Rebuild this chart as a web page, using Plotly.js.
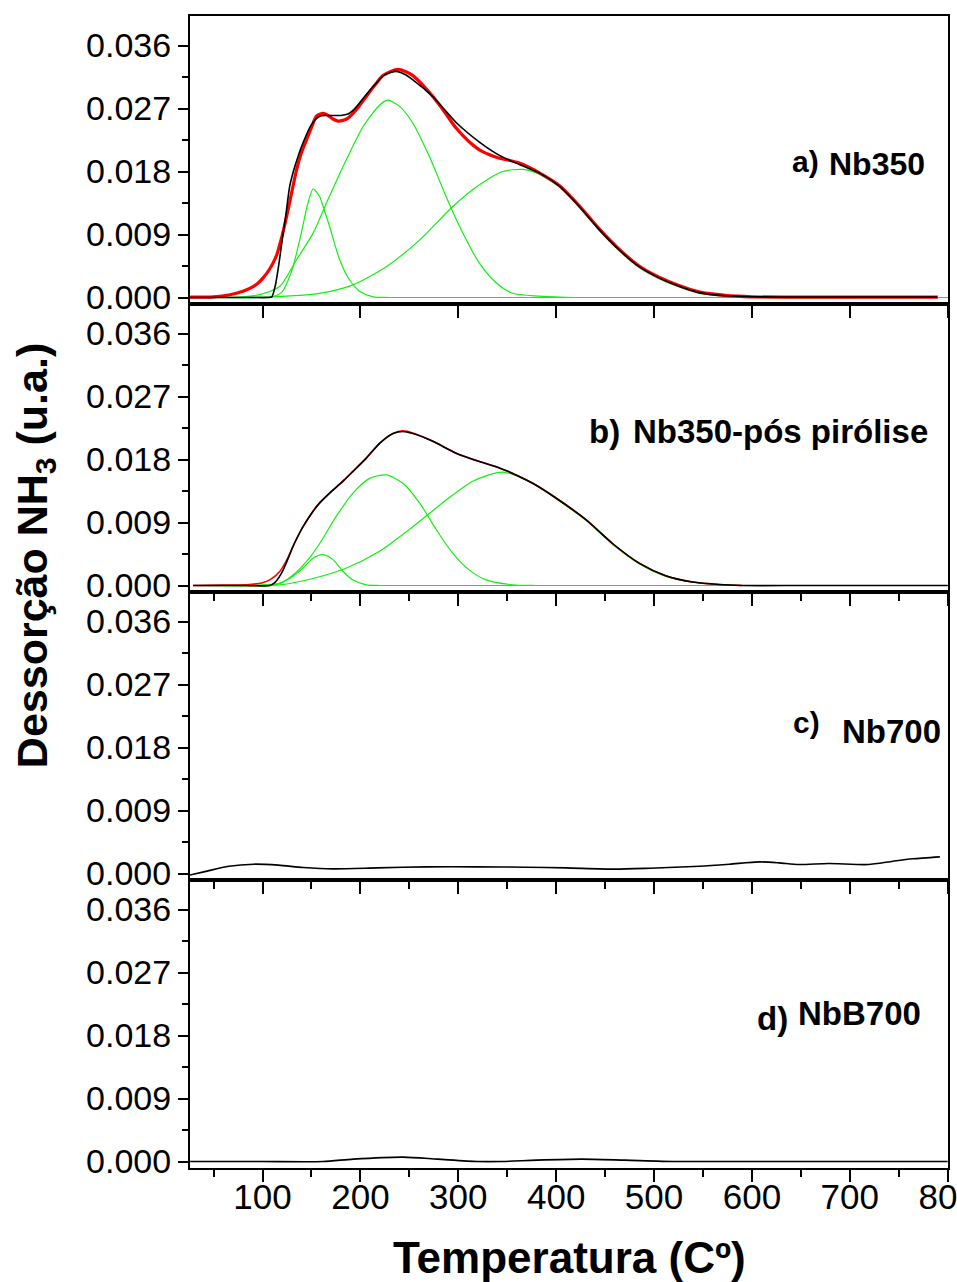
<!DOCTYPE html>
<html>
<head>
<meta charset="utf-8">
<script src="https://cdn.plot.ly/plotly-3.0.1.min.js"></script>
<style>html,body{margin:0;padding:0;background:#fff;}</style>
</head>
<body>
<div id="chart" style="width:957px;height:1282px;"></div>
<script>
// ---------- Panel a) Nb350 ----------
const aX_exp = [26, 60, 90, 105, 109.5, 112.9, 116.3, 119.7, 124.1, 127.8, 133, 141.4, 150, 158.4, 165, 172, 180, 187.3, 193, 199.2, 206, 212.8, 224.7, 236.6, 245, 253.6, 274, 297.8, 321.6, 342, 362.4, 382.8, 403.2, 423.6, 444, 464.3, 484.7, 505.1, 525.5, 545.9, 573, 600, 650, 700, 750, 789];
const aY_exp = [0, 0, 0, 0, 0.0001, 0.0016, 0.0044, 0.0078, 0.0121, 0.0159, 0.0187, 0.0221, 0.0247, 0.0259, 0.0260, 0.0260, 0.0260, 0.0262, 0.0268, 0.0278, 0.0290, 0.0301, 0.0318, 0.0323, 0.0319, 0.0311, 0.0287, 0.0250, 0.0222, 0.0203, 0.0190, 0.0178, 0.0159, 0.0130, 0.0097, 0.0068, 0.0044, 0.0028, 0.0016, 0.0007, 0.00024, 0.0001, 0.00005, 0.00005, 0.00005, 0.00005];
const aX_fit = [26, 50, 66.7, 80, 87, 95, 100.6, 107, 114.3, 119, 124.5, 129.5, 134.7, 139.8, 144.9, 150, 155.1, 161.9, 167, 172, 177, 182.2, 187, 192.4, 199, 206, 214, 223, 231, 238.3, 246, 253.6, 264, 274, 286, 297.8, 310, 321.6, 332, 342, 352, 362.4, 372, 382.8, 403.2, 423.6, 444, 464.3, 484.7, 505.1, 525.5, 545.9, 573, 600, 650, 700, 750, 790];
const aY_fit = [0.00005, 0.0001, 0.0004, 0.0009, 0.0013, 0.0020, 0.0028, 0.0040, 0.0060, 0.0083, 0.0115, 0.0148, 0.0182, 0.0207, 0.0225, 0.0243, 0.0259, 0.0263, 0.0260, 0.0255, 0.0252, 0.0253, 0.0256, 0.0263, 0.0274, 0.0287, 0.0302, 0.0317, 0.0323, 0.0326, 0.0323, 0.0317, 0.0303, 0.0287, 0.0265, 0.0242, 0.0224, 0.0211, 0.0204, 0.0199, 0.0196, 0.0192, 0.0186, 0.0178, 0.0160, 0.0131, 0.0098, 0.0069, 0.0045, 0.0029, 0.0017, 0.0008, 0.0003, 0.0001, 0.00005, 0.00005, 0.00005, 0.00005];
const aX_g1 = [26, 100, 110, 120, 126, 131.2, 139.6, 146.4, 151.7, 158.4, 163, 168.6, 178.8, 189, 199.2, 212.8, 230, 800];
const aY_g1 = [0, 0, 0.0001, 0.0008, 0.0024, 0.0044, 0.0092, 0.0135, 0.0155, 0.0144, 0.0125, 0.0101, 0.0054, 0.0025, 0.0009, 0.0001, 0, 0];
const aX_g2 = [26, 80, 97, 117.6, 134.7, 151.7, 165.3, 185.7, 202.6, 219.7, 228.1, 240, 253.6, 270.6, 287.6, 304.6, 321.6, 338.6, 355.5, 382.8, 420, 800];
const aY_g2 = [0, 0.0001, 0.0004, 0.0016, 0.0054, 0.0092, 0.0135, 0.0197, 0.0244, 0.0275, 0.0282, 0.0273, 0.0249, 0.0201, 0.0144, 0.0092, 0.0049, 0.0021, 0.0006, 0.0002, 0, 0];
const aX_g3 = [26, 107, 158.4, 192.4, 226.4, 260.4, 294.4, 321.6, 345.3, 366, 382.8, 403.2, 423.6, 444, 464.3, 484.7, 505.1, 525.5, 545.9, 573, 600, 800];
const aY_g3 = [0, 0.0001, 0.0006, 0.0018, 0.0044, 0.0082, 0.0130, 0.0161, 0.0180, 0.0183, 0.0176, 0.0158, 0.0129, 0.0096, 0.0067, 0.0043, 0.0027, 0.0015, 0.0006, 0.0002, 0, 0];

// ---------- Panel b) Nb350-pós pirólise ----------
const bX_exp = [29, 80, 107.4, 112.5, 117, 121, 126, 131.2, 136, 141.4, 151.6, 158.4, 168.6, 182.2, 192.4, 206, 219.6, 233.2, 243.4, 253.6, 274, 297.8, 321.6, 342, 359, 376, 399.8, 430.4, 457.5, 484.7, 511.9, 539.1, 566.3, 590, 650, 700, 750, 800];
const bY_exp = [0, 0, 0, 0.0004, 0.0012, 0.0022, 0.0038, 0.0056, 0.0070, 0.0084, 0.0106, 0.0118, 0.0132, 0.0149, 0.0163, 0.0182, 0.0203, 0.0217, 0.0220, 0.0217, 0.0206, 0.0189, 0.0177, 0.0168, 0.0158, 0.0146, 0.0125, 0.0094, 0.0060, 0.0032, 0.0014, 0.0005, 0.00014, 0, 0, 0, 0, 0];
const bX_fit = [29, 60, 83.7, 100, 107.4, 117.6, 126, 131.2, 136, 141.4, 151.6, 158.4, 168.6, 182.2, 192.4, 206, 219.6, 233.2, 243.4, 253.6, 274, 297.8, 321.6, 342, 359, 376, 399.8, 430.4, 457.5, 484.7, 511.9, 539.1, 566.3, 590];
const bY_fit = [0, 0.00005, 0.0001, 0.0004, 0.0008, 0.0020, 0.0040, 0.0056, 0.0070, 0.0084, 0.0106, 0.0118, 0.0132, 0.0149, 0.0163, 0.0182, 0.0203, 0.0217, 0.0221, 0.0218, 0.0206, 0.0189, 0.0177, 0.0168, 0.0158, 0.0146, 0.0125, 0.0094, 0.0060, 0.0032, 0.0014, 0.0005, 0.00014, 0];
const bX_g1 = [29, 100, 112.5, 127.8, 141.4, 151.6, 161.8, 172, 182.2, 192.4, 206, 220, 800];
const bY_g1 = [0, 0, 0.0001, 0.0010, 0.0025, 0.0039, 0.0044, 0.0037, 0.0020, 0.0008, 0.0001, 0, 0];
const bX_g2 = [29, 90, 117.6, 131.2, 144.8, 158.4, 175.4, 192.4, 209.4, 226.4, 243.4, 260.4, 277.4, 294.4, 311.4, 328.4, 355.5, 380, 800];
const bY_g2 = [0, 0.00005, 0.0003, 0.0015, 0.0034, 0.0060, 0.0099, 0.0132, 0.0153, 0.0158, 0.0146, 0.0118, 0.0080, 0.0046, 0.0022, 0.0008, 0.0001, 0, 0];
const bX_g3 = [29, 117.6, 151.6, 185.7, 219.6, 253.6, 287.6, 314.8, 345.3, 376, 399.8, 430.4, 457.5, 484.7, 511.9, 539.1, 566.3, 590, 800];
const bY_g3 = [0, 0.0001, 0.0010, 0.0025, 0.0049, 0.0084, 0.0122, 0.0149, 0.0162, 0.0146, 0.0124, 0.0093, 0.0059, 0.0031, 0.0013, 0.0005, 0.0001, 0, 0];

// ---------- Panel c) Nb700 ----------
const cX = [25, 40, 65.6, 90.9, 116.2, 141.5, 171.9, 217.5, 268.1, 318.7, 369.4, 409.9, 460.5, 496, 546.6, 577, 607.3, 627.6, 647.8, 678.2, 718.7, 744, 764.3, 792];
const cY = [-0.00024, 0.00023, 0.00104, 0.00133, 0.00119, 0.00086, 0.00066, 0.0008, 0.00095, 0.00095, 0.0009, 0.0008, 0.00062, 0.00076, 0.00104, 0.00133, 0.00166, 0.00152, 0.00128, 0.00142, 0.00128, 0.00176, 0.0021, 0.00238];

// ---------- Panel d) NbB700 ----------
const dX = [26, 100, 161.7, 192.7, 243.3, 278.7, 319.2, 344.6, 380, 425.6, 470.6, 521.8, 600, 700, 800];
const dY = [0, 0, 0, 0.00034, 0.00063, 0.00034, 0, 0, 0.00019, 0.00034, 0.00019, 0, 0, 0, 0];

const yTickVals = [0, 0.009, 0.018, 0.027, 0.036];
const xTickVals = [100, 200, 300, 400, 500, 600, 700, 800];
const panelLabels = ["a)", "Nb350", "b)", "Nb350-pós pirólise", "c)", "Nb700", "d)", "NbB700"];
const xTitle = "Temperatura (Cº)";
const yTitle = "Dessorção NH<sub>3</sub> (u.a.)";

const FONT = "Liberation Sans, Arial, Helvetica, sans-serif";
const BLACK = "#000000", RED = "#ff0000", GREEN = "#11f011";

function tr(x, y, color, width, xa, ya) {
  return {x: x, y: y, type: "scatter", mode: "lines", xaxis: xa, yaxis: ya,
          line: {color: color, width: width, shape: "spline", smoothing: 0.7},
          hoverinfo: "skip"};
}

const data = [
  tr(aX_g1, aY_g1, GREEN, 1.2, "x", "y"),
  tr(aX_g2, aY_g2, GREEN, 1.2, "x", "y"),
  tr(aX_g3, aY_g3, GREEN, 1.2, "x", "y"),
  tr(aX_fit, aY_fit, RED, 3.2, "x", "y"),
  tr(aX_exp, aY_exp, BLACK, 1.6, "x", "y"),
  tr(bX_g1, bY_g1, GREEN, 1.2, "x2", "y2"),
  tr(bX_g2, bY_g2, GREEN, 1.2, "x2", "y2"),
  tr(bX_g3, bY_g3, GREEN, 1.2, "x2", "y2"),
  tr(bX_fit, bY_fit, RED, 1.6, "x2", "y2"),
  tr(bX_exp, bY_exp, BLACK, 1.6, "x2", "y2"),
  tr(cX, cY, BLACK, 1.6, "x3", "y3"),
  tr(dX, dY, BLACK, 1.6, "x4", "y4")
];

const YR = [-0.000929, 0.040214];
function yax(dom) {
  return {domain: dom, range: YR, showline: true, linewidth: 2, linecolor: "black", mirror: true,
          ticks: "outside", ticklen: 10, tickwidth: 2, tickcolor: "black",
          tickvals: yTickVals, tickformat: ".3f", showgrid: false, zeroline: false,
          tickfont: {family: FONT, size: 34, color: "black"},
          minor: {tickvals: [0.0045, 0.0135, 0.0225, 0.0315], ticks: "outside", ticklen: 6, tickwidth: 2, tickcolor: "black", showgrid: false}};
}
function xax(anchor, withMinor, labels) {
  const o = {anchor: anchor, range: [25.9, 800.3], showline: true, linewidth: 2, linecolor: "black", mirror: true,
          ticks: "outside", ticklen: 12, tickwidth: 2, tickcolor: "black",
          tickvals: xTickVals, showgrid: false, zeroline: false, showticklabels: labels,
          ticklabeloverflow: "allow", ticklabelstandoff: -15,
          tickfont: {family: FONT, size: 35, color: "black"}};
  if (withMinor) o.minor = {tickvals: [50, 150, 250, 350, 450, 550, 650, 750], ticks: "outside", ticklen: 7, tickwidth: 2, tickcolor: "black", showgrid: false};
  return o;
}

function lab(text, xp, yv, yref, size) {
  return {text: "<b>" + text + "</b>", xref: "paper", x: xp, yref: yref, y: yv,
          xanchor: "left", yanchor: "middle", showarrow: false,
          font: {family: FONT, size: size, color: "black"}};
}

const layout = {
  width: 957, height: 1282,
  margin: {l: 190, r: 9, t: 16, b: 114},
  paper_bgcolor: "white", plot_bgcolor: "white",
  showlegend: false,
  xaxis: xax("y", false, false),
  xaxis2: xax("y2", true, false),
  xaxis3: xax("y3", true, false),
  xaxis4: xax("y4", true, true),
  yaxis: yax([0.75, 1]),
  yaxis2: yax([0.5, 0.75]),
  yaxis3: yax([0.25, 0.5]),
  yaxis4: yax([0, 0.25]),
  annotations: [
    lab(panelLabels[0], 0.792, 0.0195, "y", 30),
    lab(panelLabels[1], 0.841, 0.0191, "y", 32),
    lab(panelLabels[2], 0.524, 0.0220, "y2", 33),
    lab(panelLabels[3], 0.582, 0.0220, "y2", 33),
    lab(panelLabels[4], 0.793, 0.0216, "y3", 30),
    lab(panelLabels[5], 0.858, 0.0203, "y3", 33),
    lab(panelLabels[6], 0.746, 0.0205, "y4", 33),
    lab(panelLabels[7], 0.800, 0.0212, "y4", 33),
    {text: "<b>" + xTitle + "</b>", xref: "paper", yref: "paper", x: 0.5, y: -0.0775,
     xanchor: "center", yanchor: "middle", showarrow: false,
     font: {family: FONT, size: 44, color: "black"}},
    {text: "<b>" + yTitle + "</b>", xref: "paper", yref: "paper", x: -0.2045, y: 0.532,
     xanchor: "center", yanchor: "middle", showarrow: false, textangle: -90,
     font: {family: FONT, size: 43, color: "black"}}
  ]
};

Plotly.newPlot("chart", data, layout, {displayModeBar: false, staticPlot: true});
</script>
</body>
</html>
